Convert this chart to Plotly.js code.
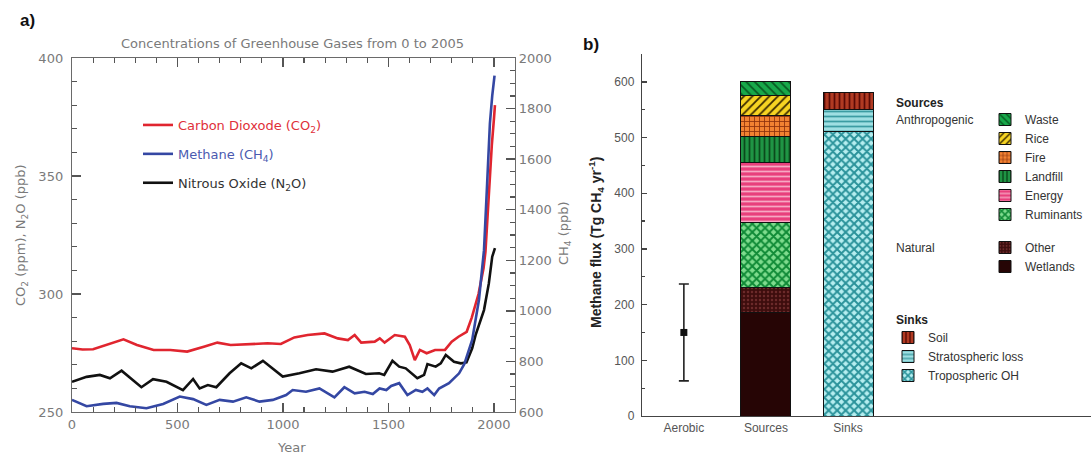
<!DOCTYPE html>
<html>
<head>
<meta charset="utf-8">
<script src="https://cdn.plot.ly/plotly-3.0.1.min.js"></script>
<style>html,body{margin:0;padding:0;background:#fff;}#chart{width:1091px;height:457px;}</style>
</head>
<body>
<div id="chart"></div>
<script>
// ---------- Panel a: concentrations of greenhouse gases (year 0 to 2005) ----------
const co2Years = [0, 50, 100, 150, 180, 244, 308, 387, 466, 546, 625, 689, 752, 832, 927, 990, 1054, 1117, 1197, 1260, 1308, 1340, 1371, 1435, 1459, 1482, 1530, 1578, 1601, 1625, 1649, 1681, 1721, 1768, 1800, 1832, 1871, 1895, 1927, 1951, 1960, 1970, 1980, 1990, 2000, 2005];
const co2Values = [277, 276.5, 276.6, 278, 279.1, 280.8, 278.4, 276.3, 276.3, 275.6, 277.7, 279.4, 278.4, 278.8, 279.1, 278.8, 281.6, 282.6, 283.3, 281.2, 280.5, 282.6, 279.4, 279.8, 281.2, 279.4, 282.6, 281.9, 278.4, 272, 276.3, 274.9, 276.3, 276.3, 279.8, 281.9, 284, 290, 300, 311, 318, 333, 350, 363, 374, 380];

const ch4Years = [0, 69, 148, 211, 274, 353, 432, 511, 574, 637, 700, 763, 826, 889, 952, 1015, 1046, 1109, 1173, 1244, 1291, 1340, 1387, 1426, 1458, 1490, 1513, 1551, 1590, 1630, 1661, 1685, 1717, 1740, 1787, 1835, 1860, 1897, 1929, 1953, 1968, 1981, 1992, 2003];
const ch4Values = [648, 623, 632, 636, 623, 615, 632, 661, 651, 628, 648, 641, 658, 641, 648, 667, 687, 680, 693, 658, 698, 674, 680, 671, 693, 687, 703, 714, 667, 687, 680, 693, 667, 693, 714, 753, 790, 885, 1043, 1240, 1504, 1741, 1850, 1930];

const n2oYears = [0, 69, 132, 180, 235, 290, 329, 384, 448, 526, 574, 605, 644, 684, 747, 802, 850, 905, 952, 999, 1078, 1157, 1235, 1314, 1393, 1456, 1480, 1519, 1551, 1582, 1637, 1669, 1685, 1724, 1748, 1772, 1811, 1843, 1870, 1897, 1913, 1953, 1976, 1992, 2005];
const n2oValues = [262.8, 264.9, 265.7, 264.3, 267.5, 263.6, 260.5, 263.9, 262.8, 259.3, 264, 260, 261.4, 260.5, 266.4, 270.6, 268.5, 271.7, 268.5, 265, 266.4, 268.1, 267.1, 269.2, 266.1, 266.4, 265.7, 271.7, 269.2, 268.5, 264.3, 265.7, 270.3, 269.2, 270.6, 274.2, 271.3, 270.6, 271, 277, 282.6, 293.2, 304.5, 315.8, 319.4];

// ---------- Panel b: methane budget ----------
const barCategories = ['Aerobic', 'Sources', 'Sinks'];
const sourceNames = ['Wetlands', 'Other', 'Ruminants', 'Energy', 'Landfill', 'Fire', 'Rice', 'Waste'];
const sourceValues = [186, 45, 117, 108, 45, 38, 36, 25];
const sinkNames = ['Tropospheric OH', 'Stratospheric loss', 'Soil'];
const sinkValues = [510, 40, 30];
const aerobicValue = [150];
const aerobicError = [87];

// ---------- styles ----------
const styles = {
  'Waste':              {bg: '#18a84a', fg: '#075a22', shape: '\\', size: 6, sol: 0.3, legend: 'legend2'},
  'Rice':               {bg: '#f6d422', fg: '#3a2a00', shape: '/', size: 6, sol: 0.3, legend: 'legend2'},
  'Fire':               {bg: '#f28232', fg: '#8a300c', shape: '+', size: 5, sol: 0.3, legend: 'legend2'},
  'Landfill':           {bg: '#1f9444', fg: '#0a4a1c', shape: '|', size: 5, sol: 0.35, legend: 'legend2'},
  'Energy':             {bg: '#e8407c', fg: '#f7a9c3', shape: '-', size: 5, sol: 0.35, legend: 'legend2'},
  'Ruminants':          {bg: '#7fdc8e', fg: '#0f8a36', shape: 'x', size: 6, sol: 0.55, legend: 'legend2'},
  'Other':              {bg: '#3d0d0d', fg: '#6b2a2a', shape: '.', size: 4, sol: 0.3, legend: 'legend3'},
  'Wetlands':           {bg: '#260505', fg: '#260505', shape: '', size: 4, sol: 0.3, legend: 'legend3'},
  'Soil':               {bg: '#b03a22', fg: '#5a0a05', shape: '|', size: 5, sol: 0.35, legend: 'legend4'},
  'Stratospheric loss': {bg: '#9fdfe2', fg: '#3c9ca2', shape: '-', size: 5, sol: 0.35, legend: 'legend4'},
  'Tropospheric OH':    {bg: '#b6eef0', fg: '#2a929a', shape: 'x', size: 6, sol: 0.55, legend: 'legend4'}
};

const grayA = '#7a7a7a';
const tickA = '#555555';
const fontA = 'DejaVu Sans, sans-serif';
const fontB = 'Liberation Sans, Arial, sans-serif';

const traces = [];
traces.push({type: 'scatter', mode: 'lines', x: co2Years, y: co2Values, xaxis: 'x', yaxis: 'y',
  name: '<span style="color:#e0303a">Carbon Dioxode (CO<sub>2</sub>)</span>', legend: 'legend', legendgroup: 'co2',
  line: {color: '#e0252f', width: 2.6}});
traces.push({type: 'scatter', mode: 'lines', x: ch4Years, y: ch4Values, xaxis: 'x', yaxis: 'y2',
  name: '<span style="color:#4a5ab0">Methane (CH<sub>4</sub>)</span>', legend: 'legend', legendgroup: 'ch4',
  line: {color: '#3447a3', width: 2.6}});
traces.push({type: 'scatter', mode: 'lines', x: n2oYears, y: n2oValues, xaxis: 'x', yaxis: 'y',
  name: '<span style="color:#333">Nitrous Oxide (N<sub>2</sub>O)</span>', legend: 'legend', legendgroup: 'n2o',
  line: {color: '#111111', width: 2.6}});

function barTrace(name, cat, val) {
  const s = styles[name];
  return {type: 'bar', x: [cat], y: [val], name: name, xaxis: 'x2', yaxis: 'y3', legend: s.legend,
    marker: {color: s.bg, line: {color: '#111', width: 1},
      pattern: {shape: s.shape, fgcolor: s.fg, bgcolor: s.bg, size: s.size, solidity: s.sol}},
    hoverinfo: 'name+y'};
}
sourceNames.forEach((n, i) => traces.push(barTrace(n, barCategories[1], sourceValues[i])));
sinkNames.forEach((n, i) => traces.push(barTrace(n, barCategories[2], sinkValues[i])));
traces.push({type: 'scatter', mode: 'markers', x: [barCategories[0]], y: aerobicValue, xaxis: 'x2', yaxis: 'y3',
  showlegend: false, marker: {color: '#111', symbol: 'square', size: 7},
  error_y: {type: 'data', array: aerobicError, color: '#222', thickness: 1.6, width: 5}});

const W = 1091, H = 457;
const px = v => v / W, py = v => 1 - v / H;

const axA = {showgrid: false, zeroline: false, showline: true, linecolor: '#6a6a6a', linewidth: 1.2,
  ticks: 'inside', tickcolor: tickA, tickwidth: 1.4, tickfont: {family: fontA, size: 13, color: grayA}};
const minorA = {ticklen: 5, ticks: 'inside', tickcolor: tickA, tickwidth: 1.2};

const layout = {
  width: W, height: H, margin: {l: 0, r: 0, t: 0, b: 0},
  paper_bgcolor: '#ffffff', plot_bgcolor: 'rgba(0,0,0,0)',
  barmode: 'stack', bargap: 0.39, showlegend: true,
  xaxis: Object.assign({}, axA, {domain: [px(72), px(515)], range: [0, 2100], anchor: 'y',
    tick0: 0, dtick: 500, ticklen: 9, mirror: 'ticks',
    minor: Object.assign({dtick: 100}, minorA)}),
  yaxis: Object.assign({}, axA, {domain: [py(412), py(58)], range: [250, 400], anchor: 'x',
    tick0: 250, dtick: 50, ticklen: 9, ticklabelstandoff: 5,
    minor: Object.assign({dtick: 10}, minorA)}),
  yaxis2: Object.assign({}, axA, {overlaying: 'y', side: 'right', anchor: 'x', range: [600, 2000],
    tick0: 600, dtick: 200, ticklen: 9,
    minor: Object.assign({dtick: 50}, minorA)}),
  xaxis2: {domain: [px(642), 1], anchor: 'y3', type: 'category', categoryorder: 'array', categoryarray: barCategories,
    range: [-0.51, 4.96], showgrid: false, zeroline: false, showline: true, linecolor: '#444', linewidth: 1.2,
    ticks: '', tickfont: {family: fontB, size: 12, color: '#555'}},
  yaxis3: {domain: [py(416), py(54)], anchor: 'x2', range: [0, 650], tick0: 0, dtick: 100,
    showgrid: false, zeroline: false, showline: true, linecolor: '#444', linewidth: 1.2,
    ticks: 'inside', ticklen: 5, tickcolor: '#444', tickwidth: 1.3, ticklabelstandoff: 4,
    minor: {dtick: 50, ticklen: 3, ticks: 'inside', tickcolor: '#444', tickwidth: 1.2},
    tickfont: {family: fontB, size: 12, color: '#555'}},
  legend: {x: px(138), y: py(110), xanchor: 'left', yanchor: 'top', bgcolor: 'rgba(0,0,0,0)',
    traceorder: 'grouped', tracegroupgap: 9, font: {family: fontA, size: 13, color: '#333'}},
  legend2: {x: px(985), y: py(105), xanchor: 'left', yanchor: 'top', bgcolor: 'rgba(0,0,0,0)',
    traceorder: 'reversed', font: {family: fontB, size: 12, color: '#333'}},
  legend3: {x: px(985), y: py(233), xanchor: 'left', yanchor: 'top', bgcolor: 'rgba(0,0,0,0)',
    traceorder: 'reversed', font: {family: fontB, size: 12, color: '#333'}},
  legend4: {x: px(888), y: py(323), xanchor: 'left', yanchor: 'top', bgcolor: 'rgba(0,0,0,0)',
    traceorder: 'reversed', font: {family: fontB, size: 12, color: '#333'}},
  annotations: [
    {text: '<b>a)</b>', x: px(18), y: py(20), xref: 'paper', yref: 'paper', xanchor: 'left', yanchor: 'middle',
      showarrow: false, font: {family: fontB, size: 17, color: '#111'}},
    {text: '<b>b)</b>', x: px(581), y: py(45), xref: 'paper', yref: 'paper', xanchor: 'left', yanchor: 'middle',
      showarrow: false, font: {family: fontB, size: 17, color: '#111'}},
    {text: 'Concentrations of Greenhouse Gases from 0 to 2005', x: px(292), y: py(43), xref: 'paper', yref: 'paper',
      xanchor: 'center', yanchor: 'middle', showarrow: false, font: {family: fontA, size: 13, color: grayA}},
    {text: 'Year', x: px(291), y: py(447), xref: 'paper', yref: 'paper', xanchor: 'center', yanchor: 'middle',
      showarrow: false, font: {family: fontA, size: 13, color: grayA}},
    {text: 'CO<sub>2</sub> (ppm), N<sub>2</sub>O (ppb)', x: px(21), y: py(235), xref: 'paper', yref: 'paper',
      xanchor: 'center', yanchor: 'middle', textangle: -90, showarrow: false, font: {family: fontA, size: 13, color: grayA}},
    {text: 'CH<sub>4</sub> (ppb)', x: px(565), y: py(233), xref: 'paper', yref: 'paper',
      xanchor: 'center', yanchor: 'middle', textangle: -90, showarrow: false, font: {family: fontA, size: 13, color: grayA}},
    {text: '<b>Methane flux (Tg CH<sub>4</sub> yr<sup>-1</sup>)</b>', x: px(596), y: py(243), xref: 'paper', yref: 'paper',
      xanchor: 'center', yanchor: 'middle', textangle: -90, showarrow: false, font: {family: fontB, size: 14, color: '#222'}},
    {text: '<b>Sources</b>', x: px(894), y: py(103), xref: 'paper', yref: 'paper', xanchor: 'left', yanchor: 'middle',
      showarrow: false, font: {family: fontB, size: 12, color: '#222'}},
    {text: 'Anthropogenic', x: px(894), y: py(120), xref: 'paper', yref: 'paper', xanchor: 'left', yanchor: 'middle',
      showarrow: false, font: {family: fontB, size: 12, color: '#333'}},
    {text: 'Natural', x: px(894), y: py(248), xref: 'paper', yref: 'paper', xanchor: 'left', yanchor: 'middle',
      showarrow: false, font: {family: fontB, size: 12, color: '#333'}},
    {text: '<b>Sinks</b>', x: px(894), y: py(320), xref: 'paper', yref: 'paper', xanchor: 'left', yanchor: 'middle',
      showarrow: false, font: {family: fontB, size: 12, color: '#222'}}
  ]
};

Plotly.newPlot('chart', traces, layout, {displayModeBar: false, staticPlot: true});
</script>
</body>
</html>
